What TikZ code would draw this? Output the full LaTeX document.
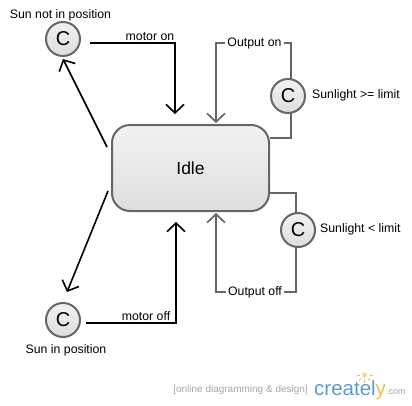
\documentclass[tikz,border=0pt]{standalone}
\usepackage{fontspec}
\setmainfont{Liberation Sans}
\usepackage{xcolor}
\usetikzlibrary{arrows.meta}
\definecolor{edgegray}{HTML}{666666}
\definecolor{logoblue}{HTML}{5B9BD0}
\definecolor{logoorange}{HTML}{F5B94E}
\definecolor{logogray}{HTML}{A6A6A6}
\tikzset{
  statebox/.style={draw=edgegray,line width=2pt,rounded corners=18pt,top color=black!5,bottom color=black!13,minimum width=157pt,minimum height=86pt,inner sep=0pt,font=\fontsize{17.5}{18}\selectfont},
  connbox/.style={circle,draw=edgegray,line width=2pt,top color=black!5,bottom color=black!13,minimum size=34pt,inner sep=0pt,font=\fontsize{20}{20}\selectfont},
  lbl/.style={inner sep=0pt,font=\fontsize{12.3}{13}\selectfont},
  barb/.style={-{Straight Barb[length=8.5pt,width=18pt]}},
  blackline/.style={black,line width=1.6pt},
  grayline/.style={edgegray,line width=1.7pt},
}
\begin{document}
\begin{tikzpicture}[x=1pt,y=-1pt]
  \useasboundingbox (0,0) rectangle (412,405);
  \node[statebox] (idle) at (190.5,168) {Idle};
  \node[connbox] (cnotin) at (63,39) {C};
  \node[connbox] (cin) at (63,320) {C};
  \node[connbox] (chigh) at (288,96) {C};
  \node[connbox] (clow) at (298,230) {C};
  \node[lbl] (tnotin) at (60.5,15) {Sun not in position};
  \node[lbl] (tin) at (66,350) {Sun in position};
  \node[lbl,anchor=west] (thigh) at (312,95) {Sunlight >= limit};
  \node[lbl,anchor=west] (tlow) at (320,229) {Sunlight < limit};

  \coordinate (a1) at (90,43);
  \coordinate (a2) at (175,43);
  \coordinate (a3) at (175,114);
  \draw[blackline,barb] (a1) -- (a2) node[lbl,pos=0.706,above=2pt] (tmon) {motor on} -- (a3);

  \coordinate (b1) at (107,147);
  \coordinate (b2) at (63,59);
  \draw[blackline,barb] (b1) -- (b2);
  \coordinate (c1) at (108,191);
  \coordinate (c2) at (67,292);
  \draw[blackline,barb] (c1) -- (c2);

  \coordinate (d1) at (86,323);
  \coordinate (d2) at (176,323);
  \coordinate (d3) at (176,222);
  \draw[blackline,barb] (d1) -- (d2) node[lbl,pos=0.667,above=2pt] (tmoff) {motor off} -- (d3);

  \coordinate (e1) at (291,79);
  \coordinate (e2) at (291,43);
  \coordinate (e3) at (216,43);
  \coordinate (e4) at (216,123);
  \draw[grayline,barb] (e1) -- (e2) -- (e3) -- (e4);
  \node[lbl,fill=white,inner xsep=2pt] (ton) at (254.5,43) {Output on};
  \coordinate (f1) at (270,138);
  \coordinate (f2) at (291,138);
  \coordinate (f3) at (291,113);
  \draw[grayline] (f1) -- (f2) -- (f3);

  \coordinate (g1) at (296,247);
  \coordinate (g2) at (296,292);
  \coordinate (g3) at (216,292);
  \coordinate (g4) at (216,213);
  \draw[grayline,barb] (g1) -- (g2) -- (g3) -- (g4);
  \node[lbl,fill=white,inner xsep=2pt] (toff) at (255,292) {Output off};
  \coordinate (h1) at (270,193);
  \coordinate (h2) at (296,193);
  \coordinate (h3) at (296,213);
  \draw[grayline] (h1) -- (h2) -- (h3);

  % logo
  \node[anchor=east,inner sep=0pt,text=logogray,font=\fontsize{10}{10}\selectfont] (tagline) at (308,390) {[online diagramming \& design]};
  \node[anchor=base west,inner sep=0pt,text=logoblue,font=\fontsize{20.5}{21}\selectfont] (logo) at (314,395) {createl\textcolor{logoorange}{y}};
  \node[anchor=base west,inner sep=0pt,text=logogray,font=\fontsize{9}{10}\selectfont] (logocom) at (386,394) {.com};
  \fill[logoorange!60] (364.5,375) circle (2.5pt);
  \foreach \ang in {0,45,90,135,180}
    \draw[logoorange,line width=0.8pt] (364.5,375) ++(\ang:-5pt) -- ++(\ang:-3pt);
\end{tikzpicture}
\end{document}
